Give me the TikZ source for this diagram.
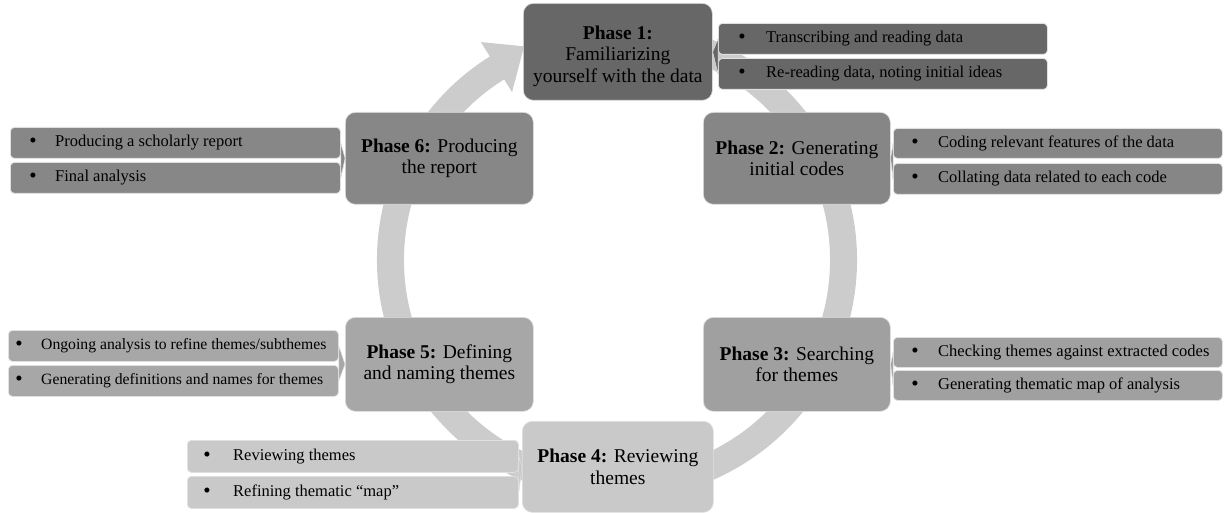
\documentclass[tikz,border=0pt]{standalone}
\usepackage{fontspec}
\setmainfont{Liberation Serif}
\definecolor{ringc}{HTML}{CCCCCC}
\definecolor{cA}{HTML}{676767}
\definecolor{cB}{HTML}{868686}
\definecolor{cC}{HTML}{A0A0A0}
\definecolor{cD}{HTML}{C9C9C9}
\definecolor{cE}{HTML}{A7A7A7}
\definecolor{cF}{HTML}{878787}
\tikzset{
  phase/.style={rounded corners=10pt, draw=white!88!black, line width=0.7pt, align=center,
    inner sep=0pt, anchor=north west, font=\fontsize{19.5}{21.5}\selectfont},
  bul/.style={rounded corners=4pt, draw=white!88!black, line width=0.8pt, inner sep=0pt, anchor=north west},
  btxt/.style={inner sep=0pt, anchor=west, font=\fontsize{16.5}{18}\selectfont, text height=11pt, text depth=3.5pt},
  bdot/.style={inner sep=0pt, anchor=center, font=\fontsize{21}{21}\selectfont},
  conn/.style={draw=white!88!black, line width=0.5pt}
}
% name, x1, y1, x2, y2, colour, dot offset, text offset, text
\newcommand\bbox[9]{%
  \node[bul, fill=#6, minimum width=#4pt-#2pt, minimum height=#5pt-#3pt] (#1) at (#2,#3) {};
  \node[bdot] (#1d) at ([xshift=#7pt]#1.west) {\textbullet};
  \node[btxt] (#1t) at ([xshift=#8pt]#1.west) {#9};
}
\newcommand\pbox[8]{%
  \node[phase, fill=#6, minimum width=#4pt-#2pt, minimum height=#5pt-#3pt] (#1) at (#2,#3) {};
  \node[align=center, inner sep=0pt, font=\fontsize{19.5}{21.5}\selectfont] (#1t) at ([yshift=#7pt]#1.center) {#8};
}
\newcommand\smallb{\fontsize{15.7}{18}\selectfont}
\begin{document}
\begin{tikzpicture}[x=1pt,y=-1pt]
\useasboundingbox (0,0) rectangle (1224,513);
\coordinate (O) at (617,260);
% circular arrow
\fill[ringc] ([shift={(O)}]-75:240) arc[start angle=-75, end angle=238, radius=240]
  -- ([shift={(O)}]238:257) -- ([shift={(O)}]246.5:233) -- ([shift={(O)}]238:198)
  -- ([shift={(O)}]238:213) arc[start angle=238, end angle=-75, radius=213] -- cycle;

% phase boxes
\pbox{p1}{523}{3}{712}{100}{cA}{-4}{\textbf{Phase 1:}\\Familiarizing\\yourself with the data}
\pbox{p2}{703}{112}{890}{204}{cB}{0}{\textbf{Phase 2:} Generating\\initial codes}
\pbox{p3}{703}{317}{890}{411}{cC}{0}{\textbf{Phase 3:} Searching\\for themes}
\pbox{p4}{522}{421}{713}{512}{cD}{0}{\textbf{Phase 4:} Reviewing\\themes}
\pbox{p5}{345}{317}{533}{411}{cE}{0}{\textbf{Phase 5:} Defining\\and naming themes}
\pbox{p6}{345}{112}{533}{204}{cF}{0}{\textbf{Phase 6:} Producing\\the report}

% bullet boxes
\bbox{b11}{718}{23}{1047}{54}{cA}{24}{48}{Transcribing and reading data}
\bbox{b12}{718}{58}{1047}{89}{cA}{24}{48}{Re-reading data, noting initial ideas}
\bbox{b21}{893}{128}{1222}{158}{cB}{22}{45}{Coding relevant features of the data}
\bbox{b22}{893}{163}{1222}{194}{cB}{22}{45}{Collating data related to each code}
\bbox{b31}{893}{337}{1222}{367}{cC}{22}{45}{Checking themes against extracted codes}
\bbox{b32}{893}{370}{1222}{400}{cC}{22}{45}{Generating thematic map of analysis}
\bbox{b41}{187}{440}{518}{472}{cD}{20}{46}{Reviewing themes}
\bbox{b42}{187}{476}{518}{508}{cD}{20}{46}{Refining thematic “map”}
\bbox{b51}{8}{330}{338}{361}{cE}{11}{33}{\smallb Ongoing analysis to refine themes/subthemes}
\bbox{b52}{8}{365}{338}{396}{cE}{11}{33}{\smallb Generating definitions and names for themes}
\bbox{b61}{10}{127}{340}{158}{cF}{23}{45}{Producing a scholarly report}
\bbox{b62}{10}{162}{340}{193}{cF}{23}{45}{Final analysis}

% small connectors
\filldraw[conn, fill=cA] (b11.west) -- (p1.east) -- (b12.west) -- cycle;
\filldraw[conn, fill=cB] (b21.west) -- (p2.east) -- (b22.west) -- cycle;
\filldraw[conn, fill=cC] (b31.west) -- (p3.east) -- (b32.west) -- cycle;
\filldraw[conn, fill=cD] (b41.east) -- (p4.west) -- (b42.east) -- cycle;
\filldraw[conn, fill=cE] (b51.east) -- (p5.west) -- (b52.east) -- cycle;
\filldraw[conn, fill=cF] (b61.east) -- (p6.west) -- (b62.east) -- cycle;
\end{tikzpicture}
\end{document}
